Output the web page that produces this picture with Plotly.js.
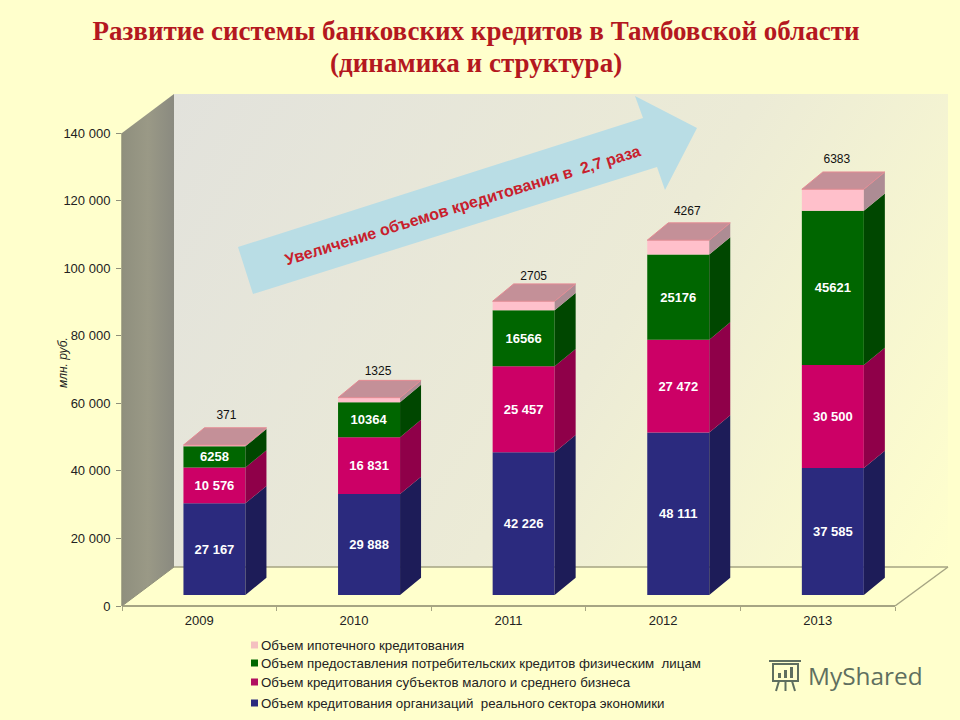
<!DOCTYPE html>
<html><head><meta charset="utf-8">
<script src="https://cdn.plot.ly/plotly-3.0.1.min.js"></script>
<style>html,body{margin:0;padding:0;background:#ffffcc;overflow:hidden}</style>
</head><body><div id="chart" style="width:960px;height:720px"></div>
<script>
const years = ['2009','2010','2011','2012','2013'];
const realSector = [27167,29888,42226,48111,37585];
const smallBiz = [10576,16831,25457,27472,30500];
const consumer = [6258,10364,16566,25176,45621];
const mortgage = [371,1325,2705,4267,6383];
const realLabels = ['27 167','29 888','42 226','48 111','37 585'];
const smallLabels = ['10 576','16 831','25 457','27 472','30 500'];
const consumerLabels = ['6258','10364','16566','25176','45621'];
const mortgageLabels = ['371','1325','2705','4267','6383'];
const yTicks = [0,20000,40000,60000,80000,100000,120000,140000];
const yTickText = ['0','20 000','40 000','60 000','80 000','100 000','120 000','140 000'];
const seriesNames = ['Объем кредитования организаций  реального сектора экономики','Объем кредитования субъектов малого и среднего бизнеса','Объем предоставления потребительских кредитов физическим  лицам','Объем ипотечного кредитования'];
const frontColors = ['#2b2a7e','#cc0066','#006600','#ffc0cb'];
const sideColors = ['#1d1c58','#8f0049','#004700','#ad8c94'];
const swatchColors = ['#2b2a7e','#b01060','#006600','#f4c0c0'];

// geometry of the fake 3D frame (pixels)
const L=122,R=948,T=94,B=606,catW=154.6,pxPerUnit=473/140000;
const X=p=>(p-L)/catW-0.5, Y=p=>(B-p)/pxPerUnit;
const PX=p=>(p-L)/(R-L), PY=p=>(B-p)/(B-T);
const dXd=21/catW, dYd=17.3/pxPerUnit, lift=11/pxPerUnit, barW=62/catW, shift=0.098;
const series=[realSector,smallBiz,consumer,mortgage];
const labels=[realLabels,smallLabels,consumerLabels,null];
const xs=years.map((_,i)=>i+shift);
const traces=[];
let cum=years.map(()=>lift);
const cums=[];
series.forEach((vals,s)=>{
  traces.push({type:'bar',x:xs,y:vals,base:cum.slice(),width:barW,name:seriesNames[s],
    marker:{color:frontColors[s],line:{width:0}},
    text:labels[s]||undefined,textposition:labels[s]?'inside':'none',insidetextanchor:'middle',textangle:0,
    insidetextfont:{family:'Liberation Sans',size:13,color:'#fff',weight:'bold'},constraintext:'none',hoverinfo:'skip'});
  cums.push(cum.slice());
  cum=cum.map((c,i)=>c+vals[i]);
});
// side faces
series.forEach((vals,s)=>{
  const px=[],py=[];
  vals.forEach((v,i)=>{
    const r=xs[i]+barW/2,y0=cums[s][i],y1=y0+v;
    px.push(r,r+dXd,r+dXd,r,r,null);py.push(y0,y0+dYd,y1+dYd,y1,y0,null);
  });
  traces.push({type:'scatter',mode:'lines',x:px,y:py,fill:'toself',fillcolor:sideColors[s],line:{width:0},showlegend:false,hoverinfo:'skip'});
});
// top faces
{
  const px=[],py=[];
  cum.forEach((t,i)=>{
    const l=xs[i]-barW/2,r=xs[i]+barW/2;
    px.push(l,l+dXd,r+dXd,r,l,null);py.push(t,t+dYd,t+dYd,t,t,null);
  });
  traces.push({type:'scatter',mode:'lines',x:px,y:py,fill:'toself',fillcolor:'#c49098',line:{width:1,color:'#e58a93'},showlegend:false,hoverinfo:'skip'});
}
// mortgage values above the bars
const labelNudgeX=[12,9,10,9,4];
const labelNudgeY=[12,8,7,11,12];
traces.push({type:'scatter',mode:'text',x:xs.map((x,i)=>x+labelNudgeX[i]/catW),y:cum.map((c,i)=>c+dYd+labelNudgeY[i]/pxPerUnit),
  text:mortgageLabels,textposition:'middle center',textfont:{family:'Liberation Sans',size:12,color:'#111'},showlegend:false,hoverinfo:'skip'});

const wallSvg=`<svg xmlns="http://www.w3.org/2000/svg" width="${R-L}" height="${B-T}" viewBox="${L} ${T} ${R-L} ${B-T}"><defs><linearGradient id="b" gradientUnits="userSpaceOnUse" x1="174" y1="94" x2="948" y2="567"><stop offset="0" stop-color="#e2e2dc"/><stop offset="0.55" stop-color="#ecebd6"/><stop offset="1" stop-color="#ffffcc"/></linearGradient><linearGradient id="l" x1="0" x2="1" y1="0" y2="0"><stop offset="0" stop-color="#8f8f7e"/><stop offset="0.5" stop-color="#9a9986"/><stop offset="1" stop-color="#8a8a80"/></linearGradient></defs><polygon points="174,94 948,94 948,567 174,567" fill="url(#b)"/><polygon points="122,133 174,94 174,567 122,606" fill="url(#l)"/></svg>`;

const poly=(pts)=>'M '+pts.map(p=>PX(p[0]).toFixed(5)+' '+PY(p[1]).toFixed(5)).join(' L ')+' Z';
const arrow=[[238,247],[643,118],[635,96],[697,128],[665,190],[657,167],[253,294]];
const line=(a,b,c,w,layer)=>({type:'line',layer:layer||'below',xref:'paper',yref:'paper',x0:PX(a[0]),y0:PY(a[1]),x1:PX(b[0]),y1:PY(b[1]),line:{color:c,width:w}});
const box=(x0,y0,x1,y1,fill)=>({type:'rect',xref:'paper',yref:'paper',x0:PX(x0),x1:PX(x1),y0:PY(y0),y1:PY(y1),fillcolor:fill,line:{width:0}});
const axisC='#a6a583';
const shapes=[
  {type:'path',layer:'below',xref:'paper',yref:'paper',path:poly(arrow),fillcolor:'#b9dde5',line:{width:0}},
  line([122,B],[895,B],axisC,2),line([895,B],[948,567],axisC,1.5),line([174,567],[948,567],axisC,1.5),
  line([122,B],[174,567],'#8f8f7a',1),line([122,133],[122,B],'#8f8f7a',1.5)
];
// legend, drawn small as in the picture
const legendY=[703,682,663,645];
const ann=(text,x,y,font,extra)=>Object.assign({text,x:PX(x),y:PY(y),xref:'paper',yref:'paper',showarrow:false,xanchor:'center',yanchor:'middle',font},extra||{});
const annotations=[
 ann('(динамика и структура)',476,63,{family:'Liberation Serif',size:27,weight:'bold',color:'#b4181f'}),
 ann('Увеличение объемов кредитования в  2,7 раза',462,205,{family:'Liberation Sans',size:16,weight:'bold',color:'#c8202c'},{textangle:-17.2}),
 ann('млн. руб.',63,363,{family:'Liberation Sans',size:12,style:'italic',color:'#222'},{textangle:-90}),
 ann('MyShared',865,675,{family:'Open Sans',size:24.4,color:'#5f6f5f'})
];
seriesNames.forEach((n,s)=>{
  annotations.push(ann(n,258.5,legendY[s],{family:'Liberation Sans',size:13.3,color:'#222'},{xanchor:'left'}));
  shapes.push(box(251,legendY[s]+3.5,258,legendY[s]-3.5,swatchColors[s]));
});
// watermark icon
const ic='#5f6f5f';
shapes.push(
 {type:'rect',xref:'paper',yref:'paper',x0:PX(773),x1:PX(798),y0:PY(681),y1:PY(664),fillcolor:'rgba(0,0,0,0)',line:{color:ic,width:2}},
 line([769,661],[801,661],ic,2,'above'),
 box(778,678,781,673,ic),box(784,678,787,670,ic),box(790,678,793,667,ic),
 line([779,681],[776,691],ic,2,'above'),line([785.5,681],[785.5,691],ic,2,'above'),line([792,681],[795,691],ic,2,'above')
);

const layout={
 width:960,height:720,autosize:false,paper_bgcolor:'#ffffcc',plot_bgcolor:'rgba(0,0,0,0)',
 margin:{l:L,r:960-R,t:T,b:720-B,pad:0},barmode:'overlay',showlegend:false,
 title:{text:'Развитие системы банковских кредитов в Тамбовской области',x:476/960,xanchor:'center',y:1-31/720,yanchor:'middle',
   font:{family:'Liberation Serif',size:27,weight:'bold',color:'#b4181f'}},
 xaxis:{range:[-0.5,X(R)],tickmode:'array',tickvals:years.map((_,i)=>i),ticktext:years,ticks:'',showgrid:false,zeroline:false,showline:false,
   tickfont:{family:'Liberation Sans',size:13,color:'#222'},ticklabelstandoff:5,
   minor:{tickmode:'array',tickvals:[-0.5,0.5,1.5,2.5,3.5,4.5],ticks:'outside',ticklen:4,tickcolor:axisC,showgrid:false}},
 yaxis:{range:[0,Y(T)],tickmode:'array',tickvals:yTicks,ticktext:yTickText,ticks:'outside',ticklen:5,tickcolor:'#8f8f7a',showgrid:false,zeroline:false,showline:false,
   tickfont:{family:'Liberation Sans',size:13,color:'#222'},ticklabelstandoff:3},
 images:[{source:'data:image/svg+xml;charset=utf-8,'+encodeURIComponent(wallSvg),xref:'paper',yref:'paper',x:0,y:1,sizex:1,sizey:1,sizing:'stretch',xanchor:'left',yanchor:'top',layer:'below'}],
 shapes,annotations
};
Plotly.newPlot('chart',traces,layout,{displayModeBar:false,staticPlot:true});
</script></body></html>
